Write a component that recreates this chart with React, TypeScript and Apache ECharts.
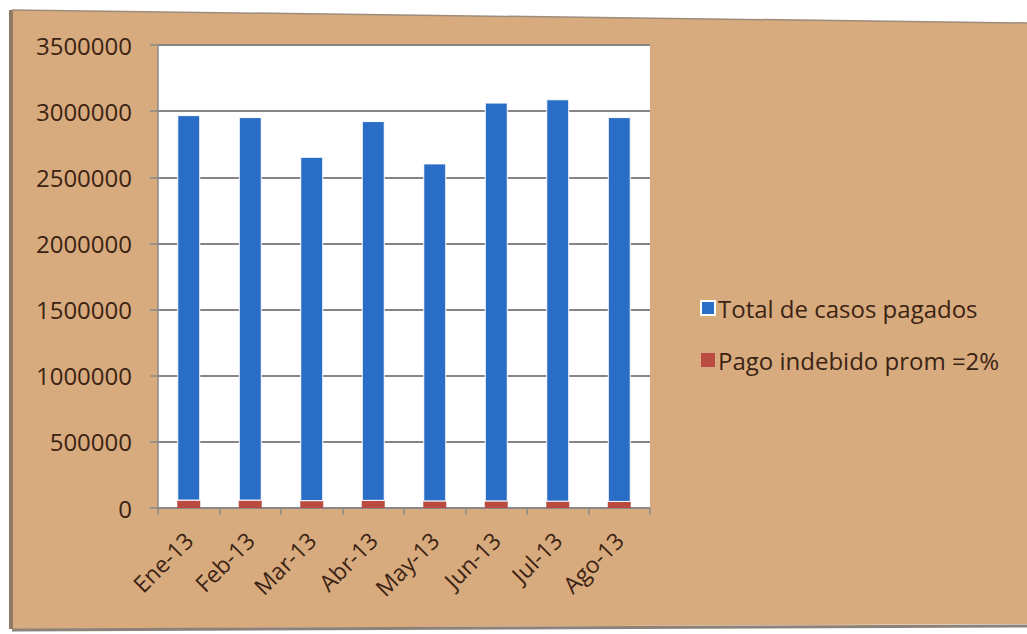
import React, { useEffect, useRef } from "react";
import * as echarts from "echarts";

// Monthly paid cases (2013) with the improper-payment share stacked underneath
const months = ["Ene-13", "Feb-13", "Mar-13", "Abr-13", "May-13", "Jun-13", "Jul-13", "Ago-13"];
const pagoIndebido = [56000, 56000, 52000, 54000, 50000, 50000, 48000, 46000];
const totalCasos = [2914000, 2899000, 2603000, 2871000, 2555000, 3015000, 3042000, 2909000];
const yTicks = { min: 0, max: 3500000, interval: 500000 };

const seriesNames = ["Total de casos pagados", "Pago indebido prom =2%"];

const TEXT = "#3b2314";
const FONT = "'Open Sans', Lato, sans-serif";

export default function App() {
  const ref = useRef<HTMLDivElement>(null);

  useEffect(() => {
    if (!ref.current) return;
    const chart = echarts.init(ref.current, undefined, { renderer: "svg" });
    chart.setOption({
      animation: false,
      backgroundColor: "#ffffff",
      textStyle: { fontFamily: FONT },
      graphic: {
        elements: [
          {
            type: "polygon",
            z: -100,
            shape: { points: [[12, 10], [1027, 23], [1027, 624], [12, 629]] },
            style: { fill: "#D8AB7E" },
            silent: true,
          },
          {
            type: "line",
            z: -99,
            shape: { x1: 11, y1: 10, x2: 11, y2: 629 },
            style: { stroke: "#8f7b68", lineWidth: 4 },
            silent: true,
          },
          {
            type: "line",
            z: -99,
            shape: { x1: 12, y1: 630, x2: 1027, y2: 626 },
            style: { stroke: "#8c8279", lineWidth: 3 },
            silent: true,
          },
          {
            type: "line",
            z: -99,
            shape: { x1: 12, y1: 10, x2: 1027, y2: 23 },
            style: { stroke: "#9c8c7c", lineWidth: 1.5 },
            silent: true,
          },
        ],
      },
      grid: {
        left: 158,
        right: 377,
        top: 45,
        bottom: 126,
        show: true,
        backgroundColor: "#ffffff",
        borderWidth: 0,
        containLabel: false,
      },
      legend: {
        orient: "vertical",
        left: 695,
        top: 291,
        data: seriesNames,
        itemWidth: 14,
        itemHeight: 14,
        itemGap: 28,
        icon: "rect",
        textStyle: {
          color: TEXT,
          fontSize: 24,
          fontFamily: FONT,
          lineHeight: 24,
          padding: [0, 0, 0, -2],
        },
      },
      xAxis: {
        type: "category",
        data: months,
        axisLine: { show: true, lineStyle: { color: "#8a8a8a", width: 1.5 } },
        axisTick: { show: true, alignWithLabel: false, length: 7, lineStyle: { color: "#8a8a8a", width: 1.5 } },
        axisLabel: {
          rotate: 45,
          margin: 28,
          color: TEXT,
          fontSize: 23,
          fontFamily: FONT,
          interval: 0,
        },
      },
      yAxis: {
        type: "value",
        min: yTicks.min,
        max: yTicks.max,
        interval: yTicks.interval,
        axisLine: { show: true, lineStyle: { color: "#8a8a8a", width: 1.5 } },
        axisTick: { show: true, inside: false, length: 8, lineStyle: { color: "#8a8a8a", width: 1.5 } },
        axisLabel: {
          margin: 26,
          color: TEXT,
          fontSize: 24,
          fontFamily: FONT,
          formatter: (v: number) => String(v),
        },
        splitLine: { show: true, lineStyle: { color: "#858585", width: 2 } },
      },
      series: [
        {
          name: seriesNames[1],
          type: "bar",
          stack: "total",
          data: pagoIndebido,
          barWidth: 23,
          itemStyle: { color: "#B94B40" },
        },
        {
          name: seriesNames[0],
          type: "bar",
          stack: "total",
          data: totalCasos,
          barWidth: 23,
          itemStyle: { color: "#2A6DC6", borderColor: "#ffffff", borderWidth: 1 },
        },
      ],
    });
    return () => chart.dispose();
  }, []);

  return (
    <div
      ref={ref}
      style={{ position: "absolute", left: 0, top: 0, width: 1027, height: 634 }}
    />
  );
}
